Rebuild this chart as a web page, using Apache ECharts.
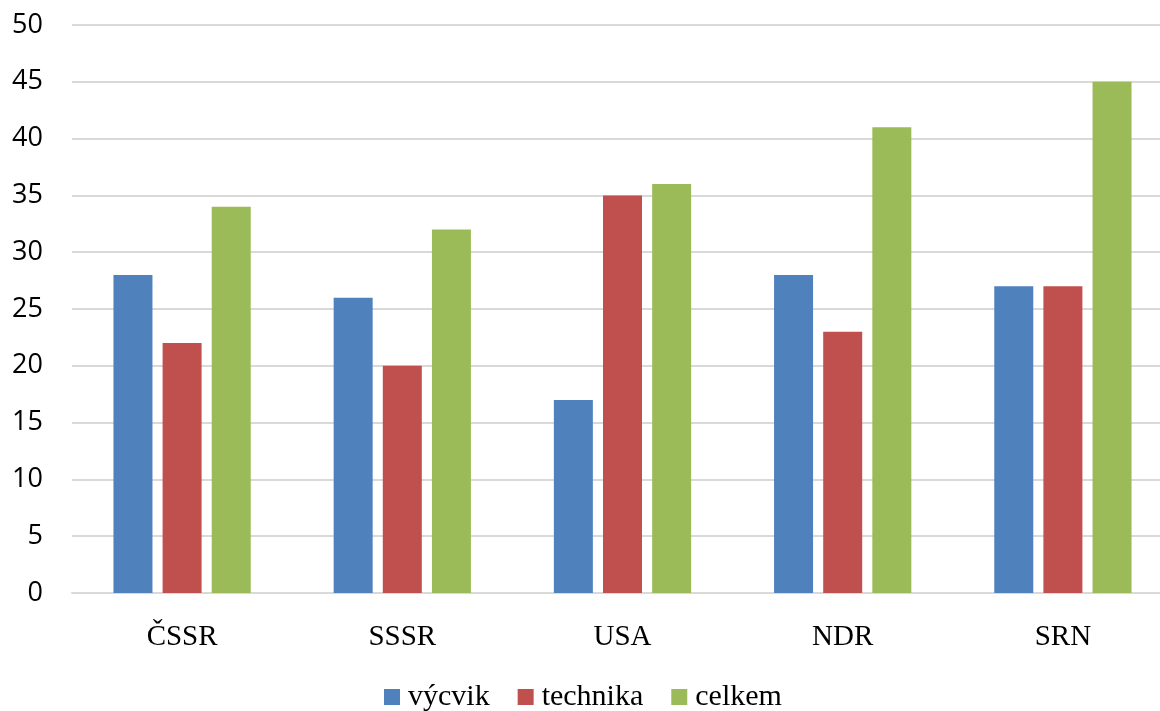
<!DOCTYPE html>
<html><head><meta charset="utf-8">
<script src="https://cdn.jsdelivr.net/npm/echarts@6/dist/echarts.min.js"></script>
<style>html,body{margin:0;padding:0;background:#fff}#c{width:1160px;height:711px}</style>
</head><body><div id="c"></div>
<script>
const categories = ['ČSSR', 'SSSR', 'USA', 'NDR', 'SRN'];
const vycvik = [28, 26, 17, 28, 27];
const technika = [22, 20, 35, 23, 27];
const celkem = [34, 32, 36, 41, 45];
const seriesNames = ['výcvik', 'technika', 'celkem'];
const colors = ['#4F81BD', '#C0504D', '#9BBB59'];

const chart = echarts.init(document.getElementById('c'));
const serif = '"Liberation Serif", "DejaVu Serif", serif';
chart.setOption({
  animation: false,
  grid: { left: 72, width: 1101, top: 25, height: 568, containLabel: false, outerBoundsMode: 'none' },
  legend: {
    top: 677, left: 379,
    itemWidth: 16, itemHeight: 16, itemGap: 28,
    icon: 'rect',
    textStyle: { fontFamily: serif, fontSize: 30, color: '#000', padding: [0, 0, 0, 3] },
    data: seriesNames
  },
  xAxis: {
    type: 'category', data: categories,
    axisLine: { lineStyle: { color: '#d9d9d9', width: 2 } },
    axisTick: { show: false },
    axisLabel: { fontFamily: serif, fontSize: 29, color: '#000', margin: 30 }
  },
  yAxis: {
    type: 'value', min: 0, max: 50, interval: 5,
    axisLine: { show: false }, axisTick: { show: false },
    splitLine: { lineStyle: { color: '#d9d9d9', width: 2 } },
    axisLabel: { fontFamily: '"Open Sans", "Noto Sans", sans-serif', fontSize: 27, color: '#000', margin: 29 }
  },
  series: [vycvik, technika, celkem].map((d, i) => ({
    name: seriesNames[i], type: 'bar', data: d,
    barWidth: 39, barGap: '26%',
    itemStyle: { color: colors[i] }
  }))
});
</script></body></html>
